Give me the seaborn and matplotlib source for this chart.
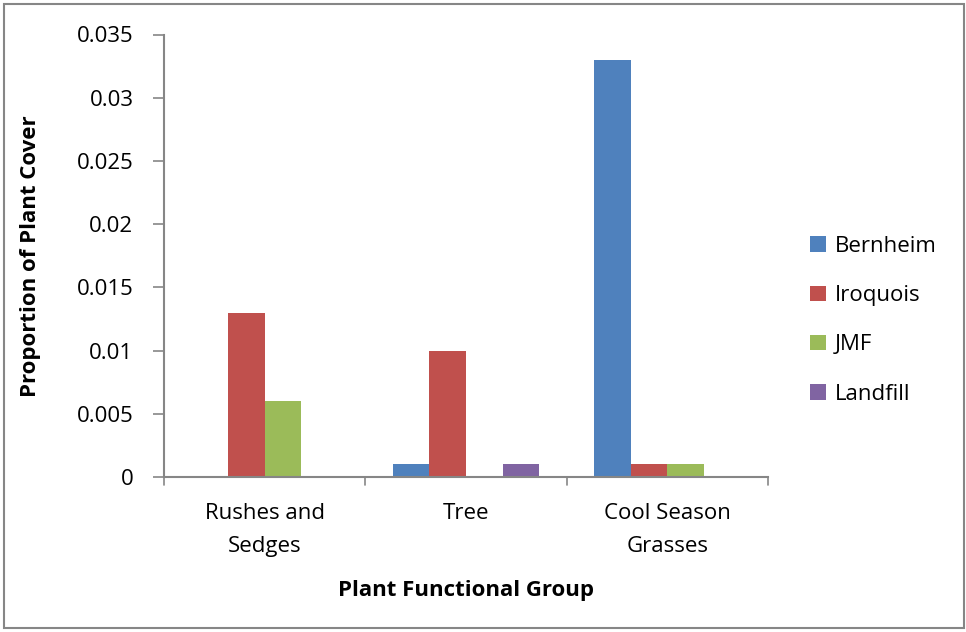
import matplotlib
matplotlib.use("Agg")
import matplotlib.pyplot as plt
import seaborn as sns
import pandas as pd
from matplotlib.patches import Rectangle

groups = ["Rushes and\nSedges", "Tree", "Cool Season\nGrasses"]
sites = ["Bernheim", "Iroquois", "JMF", "Landfill"]
bernheim = [0.0, 0.001, 0.033]
iroquois = [0.013, 0.010, 0.001]
jmf = [0.006, 0.0, 0.001]
landfill = [0.0, 0.001, 0.0]
yticks = [0, 0.005, 0.01, 0.015, 0.02, 0.025, 0.03, 0.035]
ytick_labels = ["0", "0.005", "0.01", "0.015", "0.02", "0.025", "0.03", "0.035"]
colors = ["#4F81BD", "#C0504D", "#9BBB59", "#8064A2"]

rows = []
for s, vals in zip(sites, [bernheim, iroquois, jmf, landfill]):
    for g, v in zip(groups, vals):
        rows.append({"group": g, "site": s, "value": v})
df = pd.DataFrame(rows)

sns.set_theme(style="white")
plt.rcParams["font.family"] = ["Open Sans", "DejaVu Sans"]
plt.rcParams["text.color"] = "black"
plt.rcParams["axes.labelcolor"] = "black"
plt.rcParams["xtick.color"] = "black"
plt.rcParams["ytick.color"] = "black"

fs = 16
fig = plt.figure(figsize=(9.66, 6.32), dpi=100)
ax = fig.add_axes([164/966, 1-477/632, (768-164)/966, (477-34.5)/632])
sns.barplot(data=df, x="group", y="value", hue="site", order=groups, hue_order=sites,
            palette=colors, width=0.73, saturation=1, ax=ax, legend=True,
            edgecolor="none", linewidth=0)

ax.set_ylim(0, 0.035)
ax.set_xlim(-0.5, 2.5)
ax.set_yticks(yticks)
ax.set_yticklabels(ytick_labels, fontsize=fs)
ax.set_xticks([0, 1, 2])
ax.set_xticklabels(groups, fontsize=fs, linespacing=1.75)
ax.tick_params(axis="x", length=0, pad=19, labelcolor="black")
ax.tick_params(axis="y", length=8, width=1.2, color="#868686", direction="out", pad=14,
               left=True, labelcolor="black")
for b in [-0.5, 0.5, 1.5, 2.5]:
    ax.plot([b, b], [0, -0.0006], color="#868686", lw=1.2, clip_on=False, transform=ax.transData)
for sp in ["top", "right"]:
    ax.spines[sp].set_visible(False)
for sp in ["left", "bottom"]:
    ax.spines[sp].set_color("#868686")
    ax.spines[sp].set_linewidth(1.5)

ax.set_xlabel("Plant Functional Group", fontsize=fs, fontweight="bold", labelpad=16)
ax.set_ylabel("Proportion of Plant Cover", fontsize=fs, fontweight="bold", labelpad=26)

handles, labels = ax.get_legend_handles_labels()
ax.legend(handles, labels, loc="upper left", bbox_to_anchor=(810/966, 1-236/632),
          bbox_transform=fig.transFigure, frameon=False, fontsize=fs,
          handlelength=0.7, handleheight=0.7, handletextpad=0.4, labelspacing=1.27,
          borderaxespad=0, borderpad=0)

fig.patches.append(Rectangle((4/966, 4/632), 960/966, 624/632, transform=fig.transFigure,
                             fill=False, edgecolor="#868686", linewidth=1.5))
fig.savefig("out.png", dpi=100)
